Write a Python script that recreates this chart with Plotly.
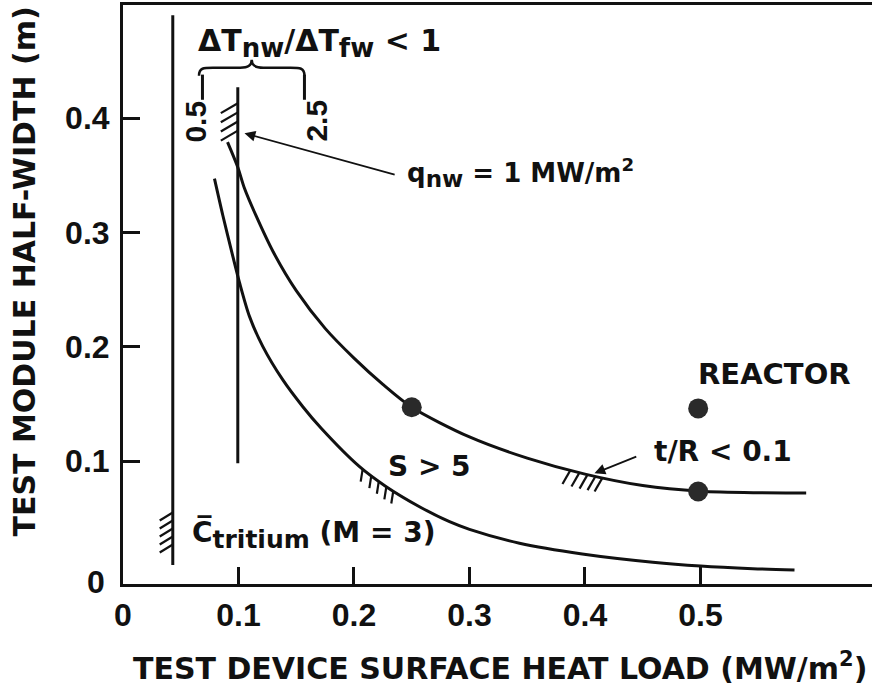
import numpy as np
import plotly.graph_objects as go

# ---------------- data ----------------
upper_x = [0.0905, 0.0994, 0.105, 0.115, 0.130, 0.150, 0.175, 0.200, 0.225,
           0.250, 0.300, 0.350, 0.400, 0.450, 0.500, 0.550, 0.5915]
upper_y = [0.379, 0.357, 0.339, 0.315, 0.283, 0.249, 0.216, 0.190, 0.167,
           0.147, 0.121, 0.1025, 0.0885, 0.0785, 0.0735, 0.0722, 0.0720]

lower_x = [0.0792, 0.0864, 0.0951, 0.1009, 0.1095, 0.1210, 0.1384, 0.1557, 0.1716,
           0.2048, 0.2279, 0.2567, 0.2827, 0.3000, 0.3433, 0.3976, 0.4587, 0.5000,
           0.5453, 0.5814]
lower_y = [0.347, 0.315, 0.279, 0.256, 0.2265, 0.2003, 0.1709, 0.1475, 0.1286,
           0.0950, 0.0775, 0.0600, 0.0469, 0.0402, 0.0280, 0.0186, 0.0114, 0.0081,
           0.0058, 0.0046]

# vertical limit lines: x, y_bottom, y_top
tritium_line = [0.0431, 0.009, 0.490]
dT_line = [0.0994, 0.098, 0.427]

dot_x = [0.25, 0.498]
dot_y = [0.147, 0.0733]
reactor_x = [0.498]
reactor_y = [0.146]

# hatch positions
hatch_dT_y = [0.413, 0.405, 0.397, 0.389]
hatch_tritium_y = [0.055, 0.048, 0.041, 0.034, 0.027]
hatch_tR_x = [0.3874, 0.3952, 0.4022, 0.4091, 0.4152]
hatch_S_x = [0.2075, 0.2150, 0.2215, 0.2280, 0.2340]

x_ticks = [0, 0.1, 0.2, 0.3, 0.4, 0.5]
x_ticktext = ["0", "0.1", "0.2", "0.3", "0.4", "0.5"]
y_ticks = [0.1, 0.2, 0.3, 0.4]
y_ticktext = ["0.1", "0.2", "0.3", "0.4"]

# brace ends (ratio 0.5 and 2.5 marks)
brace_x = [0.0688, 0.1571]

INK = "#111111"
TICKFONT = "Liberation Sans, Arial, Helvetica, sans-serif"
LABELFONT = "DejaVu Sans, Liberation Sans, Arial, sans-serif"


def segs(pairs):
    xs, ys = [], []
    for (x0, y0, x1, y1) in pairs:
        xs += [x0, x1, None]
        ys += [y0, y1, None]
    return xs, ys


fig = go.Figure()

# main curves
fig.add_trace(go.Scatter(x=upper_x, y=upper_y, mode="lines",
                         line=dict(color=INK, width=3, shape="spline", smoothing=0.8),
                         hoverinfo="skip", showlegend=False))
fig.add_trace(go.Scatter(x=lower_x, y=lower_y, mode="lines",
                         line=dict(color=INK, width=3, shape="spline", smoothing=0.8),
                         hoverinfo="skip", showlegend=False))

# vertical limit lines
for ln in (tritium_line, dT_line):
    fig.add_trace(go.Scatter(x=[ln[0], ln[0]], y=[ln[1], ln[2]], mode="lines",
                             line=dict(color=INK, width=3),
                             hoverinfo="skip", showlegend=False))

# hatch marks
pairs = []
for y in hatch_dT_y:
    pairs.append((dT_line[0], y, dT_line[0] - 0.0147, y - 0.0087))
for y in hatch_tritium_y:
    pairs.append((tritium_line[0], y, tritium_line[0] - 0.0113, y - 0.0070))
for x in hatch_tR_x:
    y = float(np.interp(x, upper_x, upper_y))
    pairs.append((x, y, x - 0.0069, y - 0.0122))
for x in hatch_S_x:
    y = float(np.interp(x, lower_x, lower_y))
    pairs.append((x, y, x - 0.0017, y - 0.0110))
hx, hy = segs(pairs)
fig.add_trace(go.Scatter(x=hx, y=hy, mode="lines", line=dict(color=INK, width=2.2),
                         hoverinfo="skip", showlegend=False))

# brace ticks
bt = [(bx, 0.4380, bx, 0.4160) for bx in brace_x]
bx_, by_ = segs(bt)
fig.add_trace(go.Scatter(x=bx_, y=by_, mode="lines", line=dict(color=INK, width=3),
                         hoverinfo="skip", showlegend=False))

# dots
fig.add_trace(go.Scatter(x=dot_x + reactor_x, y=dot_y + reactor_y, mode="markers",
                         marker=dict(color="#2a2a2a", size=20, line=dict(width=0)),
                         hoverinfo="skip", showlegend=False))

# curly brace as a path
xl, xr = brace_x[0] - 0.003, brace_x[1]
xm = 0.5 * (xl + xr)
yb, yh, yc = 0.4370, 0.4440, 0.4510
brace_path = (f"M {xl},{yb} C {xl},{yh} {xl+0.004},{yh} {xl+0.012},{yh} "
              f"L {xm-0.010},{yh} C {xm-0.003},{yh} {xm},{yh+0.002} {xm},{yc} "
              f"C {xm},{yh+0.002} {xm+0.003},{yh} {xm+0.010},{yh} "
              f"L {xr-0.012},{yh} C {xr-0.004},{yh} {xr},{yh} {xr},{yb}")
fig.add_shape(type="path", path=brace_path, xref="x", yref="y",
              line=dict(color=INK, width=2.5))


def ann(text, x, y, size, xanchor="left", yanchor="middle", angle=0, xref="x", yref="y",
        family=LABELFONT):
    fig.add_annotation(text=text, x=x, y=y, xref=xref, yref=yref, showarrow=False,
                       xanchor=xanchor, yanchor=yanchor, textangle=angle,
                       font=dict(size=size, family=family, color=INK, weight="bold"))


def sub(t, px):
    return f"<sub><span style='font-size:{px}px'>{t}</span></sub>"


ann(f"ΔT{sub('nw', 26)}/ΔT{sub('fw', 26)} &lt; 1", 0.0630, 0.466, 30)
ann("0.5", 0.0628, 0.3965, 30, xanchor="center", angle=-90, family=TICKFONT)
ann("2.5", 0.1667, 0.3974, 30, xanchor="center", angle=-90, family=TICKFONT)
ann(f"q{sub('nw', 23)} = 1 MW/m<sup>2</sup>", 0.2440, 0.352, 26)
ann("REACTOR", 0.5645, 0.1761, 29, xanchor="center")
ann("t/R &lt; 0.1", 0.4576, 0.1087, 28)
ann("S &gt; 5", 0.228, 0.0956, 28)
ann(f"C\u0305{sub('tritium', 25)} (M = 3)", 0.0576, 0.036, 28)

# arrows
fig.add_annotation(x=0.1052, y=0.3867, ax=0.2365, ay=0.3502, xref="x", yref="y",
                   axref="x", ayref="y", text="", showarrow=True, arrowhead=2,
                   arrowsize=1.2, arrowwidth=1.8, arrowcolor=INK)
fig.add_annotation(x=0.4082, y=0.0892, ax=0.4457, ay=0.1044, xref="x", yref="y",
                   axref="x", ayref="y", text="", showarrow=True, arrowhead=2,
                   arrowsize=1.2, arrowwidth=1.8, arrowcolor=INK)

# y "0" label at the axis corner
ann("0", -0.0207, 0.003, 32, xanchor="right", yanchor="middle", xref="paper", yref="paper",
    family=TICKFONT)

# axis titles
ann("TEST DEVICE SURFACE HEAT LOAD (MW/m<sup>2</sup>)", 0.503, -0.142, 30,
    xanchor="center", xref="paper", yref="paper")
ann("TEST MODULE HALF-WIDTH (m)", -0.132, 0.54, 30, xanchor="center",
    angle=-90, xref="paper", yref="paper")

fig.update_layout(
    width=872, height=692,
    margin=dict(l=123, r=0, t=5, b=108),
    paper_bgcolor="white", plot_bgcolor="white",
    font=dict(family=TICKFONT, color=INK),
    xaxis=dict(range=[0, 0.6485], showline=True, linewidth=3, linecolor=INK, mirror=True,
               ticks="inside", ticklen=17, tickwidth=2.5, tickcolor=INK,
               tickvals=x_ticks, ticktext=x_ticktext, showgrid=False, zeroline=False,
               tickfont=dict(size=32, family=TICKFONT, color=INK, weight="bold"),
               ticklabelstandoff=1),
    yaxis=dict(range=[-0.0076, 0.4989], showline=True, linewidth=3, linecolor=INK,
               mirror=False, ticks="inside", ticklen=17, tickwidth=2.5, tickcolor=INK,
               tickvals=y_ticks, ticktext=y_ticktext, showgrid=False, zeroline=False,
               tickfont=dict(size=32, family=TICKFONT, color=INK, weight="bold"),
               ticklabelstandoff=4),
)

fig.write_html("out.html", config={"displayModeBar": False},
               post_script="document.body.style.margin='0px';")
